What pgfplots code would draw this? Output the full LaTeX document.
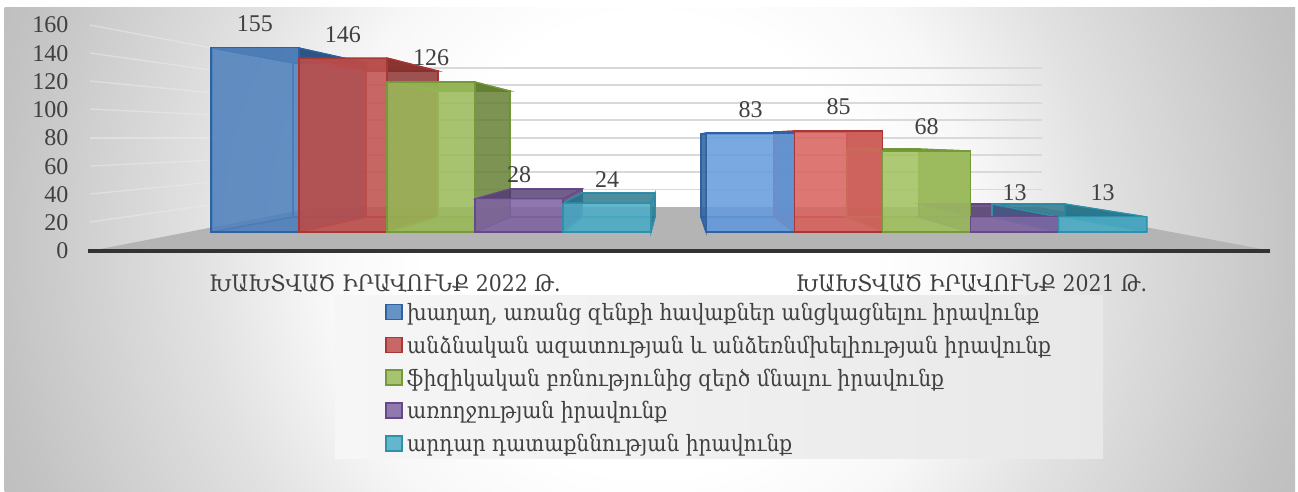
\documentclass[border=0pt]{standalone}
\usepackage{pgfplots}
\pgfplotsset{compat=1.18}
\usepackage{fontspec}
\setmainfont{Liberation Serif}
\newfontfamily\arm{DejaVu Serif Condensed}
\definecolor{cb}{HTML}{4F81BD}\definecolor{cbd}{HTML}{2F62A0}\definecolor{cbl}{HTML}{669CDE}
\definecolor{cr}{HTML}{C0504D}\definecolor{crd}{HTML}{A83835}\definecolor{crl}{HTML}{D8635F}
\definecolor{cg}{HTML}{9BBB59}\definecolor{cgd}{HTML}{759A3A}\definecolor{cgl}{HTML}{A2C260}
\definecolor{cp}{HTML}{8064A2}\definecolor{cpd}{HTML}{654A8A}
\definecolor{cc}{HTML}{4BACC6}\definecolor{ccd}{HTML}{2E90AA}
\definecolor{txt}{HTML}{404040}
\pgfdeclareradialshading{panelbg}{\pgfpoint{0bp}{0bp}}{%
 color(0bp)=(white);color(8.5bp)=(white);color(12.5bp)=(white!97!black);color(17bp)=(white!88.5!black);color(25bp)=(white!76!black);color(30bp)=(white!72!black);color(50bp)=(white!72!black)}
% one box in perspective: x1 x2 front, xb1 xb2 back, yf yb tops, dark colour, left-face opacity
\newcommand\boxfaces[8]{%
 \addplot[draw=#7,line width=1.2pt,fill=#7,fill opacity=.08] coordinates {(#3,#6)(#4,#6)(#4,217)(#3,217)} --cycle;
 \addplot[draw=#7,line width=1.2pt,fill=#7,fill opacity=#8] coordinates {(#1,#5)(#3,#6)(#3,217)(#1,232)} --cycle;
 \addplot[draw=#7,line width=1.2pt,fill=#7,fill opacity=.30] coordinates {(#1,232)(#2,232)(#4,217)(#3,217)} --cycle;
 \addplot[draw=#7,line width=1.2pt,fill=#7!80!black,fill opacity=.80] coordinates {(#1,#5)(#2,#5)(#4,#6)(#3,#6)} --cycle;
 \addplot[draw=#7,line width=1.2pt,fill=#7!80!black,fill opacity=.80] coordinates {(#2,#5)(#2,232)(#4,217)(#4,#6)} --cycle;
}
\pgfplotsset{base/.style={at={(0,0)},anchor=south west,scale only axis,width=1298pt,height=491pt,
 axis line style={draw=none},tick style={draw=none},major tick length=0pt,
 /pgf/number format/assume math mode=true},
 s/.style n args={3}{draw=#1,fill=#2,fill opacity=.85,line width=1.5pt,bar shift=#3},
 wall/.style={color=white!92!black,line width=1.3pt,opacity=.55}}
\begin{document}
\begin{tikzpicture}
% geometry in picture pixels
\begin{axis}[base,xmin=0,xmax=1298,ymin=0,ymax=491,y dir=reverse,xtick=\empty,ytick=\empty]
\begin{scope}
\clip (axis cs:4.5,7) rectangle (axis cs:1295,491);
\shade[shading=panelbg] (axis cs:-10,-430) rectangle (axis cs:1308,920);
\end{scope}
\addplot[draw=none,fill=white!70.5!black] coordinates {(90,251)(1272,251)(1039,207)(317,207)} --cycle;
% back wall grid
\pgfplotsinvokeforeach{68,85,103,120,138,155,172,189.5}{\addplot[color=white!85!black,line width=1.6pt] coordinates {(317,#1)(1042,#1)};}
\addplot[wall] coordinates {(90,25)(317,68)};
\addplot[wall] coordinates {(90,53)(317,85)};
\addplot[wall] coordinates {(90,81)(317,103)};
\addplot[wall] coordinates {(90,109)(317,120)};
\addplot[wall] coordinates {(90,138)(317,138)};
\addplot[wall] coordinates {(90,166)(317,155)};
\addplot[wall] coordinates {(90,194)(317,172)};
\addplot[wall] coordinates {(90,222)(317,189.5)};
\addplot[color=black!80,line width=3.5pt] coordinates {(88,251)(1270,251)};
\shade[left color=white!96.5!black,middle color=white!98!black,right color=white!91!black] (axis cs:335,295) rectangle (axis cs:1103,458);
% bars' back, side, floor and top faces
\boxfaces{212}{299}{293}{366}{48}{63}{cbd}{.15}
\boxfaces{299}{387}{366}{438}{58}{71}{crd}{.20}
\boxfaces{387}{475}{438}{510}{82}{91}{cgd}{.15}
\boxfaces{475}{563}{510}{582}{199}{189}{cpd}{.25}
\boxfaces{563}{651}{582}{655}{203}{193}{ccd}{.25}
\boxfaces{706}{794}{701}{774}{133}{134}{cbd}{.85}
\boxfaces{794}{882}{774}{847}{131}{132}{crd}{.15}
\boxfaces{882}{970}{847}{919}{151}{149}{cgd}{.15}
\boxfaces{970}{1059}{919}{992}{217}{204}{cpd}{.25}
\boxfaces{1059}{1147}{992}{1065}{217}{204}{ccd}{.25}
\end{axis}
% value scale at the left
\begin{axis}[base,xmin=0,xmax=1298,ymin=-169.9,ymax=177.7,xtick=\empty,
 ytick={0,20,...,160},
 yticklabel style={anchor=east,xshift=72pt,font=\fontsize{24}{24}\selectfont,text=txt}]
\addplot[draw=none] coordinates {(0,0)(0,160)};
\end{axis}
% the bars
\begin{axis}[base,ybar,bar width=88pt,xmin=-0.86982,xmax=1.74975,ymin=-217.6,ymax=194.96,
 ytick=\empty,xtick={-0.093,1.091},
 xticklabels={{\arm ԽԱԽՏՎԱԾ ԻՐԱՎՈՒՆՔ 2022 Թ.},{\arm ԽԱԽՏՎԱԾ ԻՐԱՎՈՒՆՔ 2021 Թ.}},
 xticklabel style={anchor=center,yshift=208pt,font=\fontsize{22.7}{22}\selectfont,text=txt},
 nodes near coords,
 nodes near coords style={anchor=center,yshift=24pt,font=\fontsize{24}{24}\selectfont,text=txt,opacity=1,text opacity=1},
 legend cell align=left,
 legend style={at={(385pt,491pt-301pt)},anchor=north west,draw=none,fill=none,
   font=\fontsize{22.5}{22}\selectfont\arm,text=txt,row sep=9.9pt,inner sep=0pt,
   /tikz/every odd column/.append style={column sep=2.5pt}},
 legend image code/.code={\draw[#1,fill opacity=.85,line width=1.5pt] (0pt,-7pt) rectangle (16pt,8pt);}]
\addplot[s={cbd}{cb}{-176pt}] coordinates {(0,155)};
\addplot[s={crd}{cr}{-88pt}] coordinates {(0,146)};
\addplot[s={cgd}{cg}{0pt}] coordinates {(0,126)};
\addplot[s={cpd}{cp}{88pt}] coordinates {(0,28)};
\addplot[s={ccd}{cc}{176pt}] coordinates {(0,24)};
\addplot[s={cbd}{cbl}{-176pt},forget plot] coordinates {(1,83)};
\addplot[s={crd}{crl}{-88pt},forget plot] coordinates {(1,85)};
\addplot[s={cgd}{cgl}{0pt},forget plot] coordinates {(1,68)};
\addplot[s={cpd}{cp}{88pt},forget plot] coordinates {(1,13)};
\addplot[s={ccd}{cc}{176pt},forget plot] coordinates {(1,13)};
\legend{{խաղաղ, առանց զենքի հավաքներ անցկացնելու իրավունք},անձնական ազատության և անձեռնմխելիության իրավունք,ֆիզիկական բռնությունից զերծ մնալու իրավունք,առողջության իրավունք,արդար դատաքննության իրավունք}
\end{axis}
\pgfresetboundingbox
\useasboundingbox (0,0) rectangle (1298pt,491pt);
\end{tikzpicture}
\end{document}
